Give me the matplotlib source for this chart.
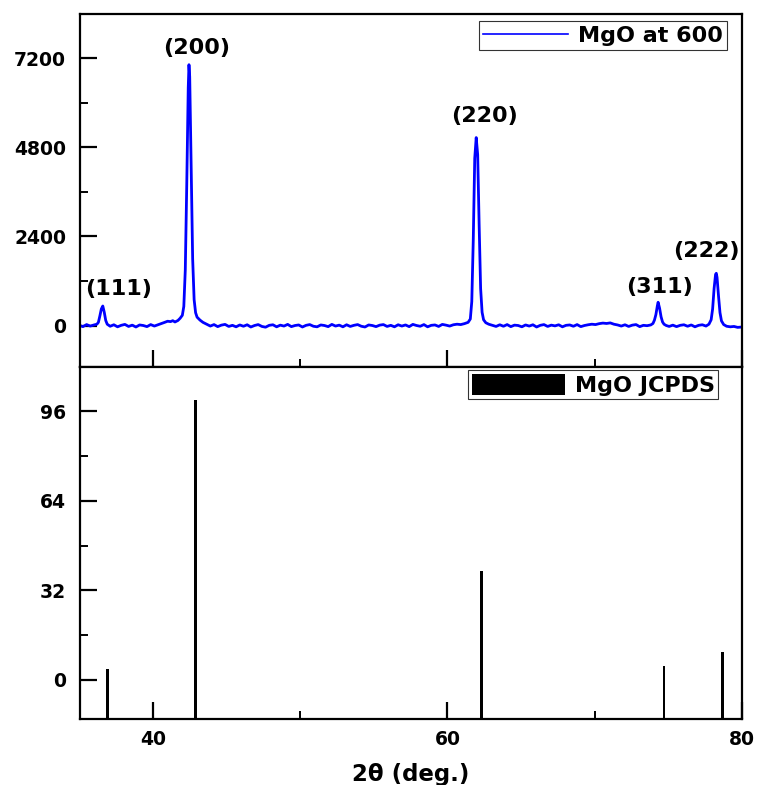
import matplotlib
matplotlib.use('Agg')
import matplotlib.pyplot as plt
from matplotlib.ticker import MultipleLocator

plt.rcParams['font.family'] = ['DejaVu Sans']
plt.rcParams['font.weight'] = 'bold'

# measured pattern, MgO calcined at 600
tth = [35.0, 35.25, 35.5, 35.75, 36.0, 36.2, 36.3, 36.4, 36.5, 36.6, 36.7, 36.8, 36.9,
       37.1, 37.35, 37.6, 37.85, 38.1, 38.35, 38.6, 38.85, 39.1, 39.35, 39.6, 39.85,
       40.1, 40.35, 40.6, 40.8, 41.0, 41.2, 41.35, 41.5, 41.7, 41.85, 42.0, 42.1,
       42.2, 42.3, 42.4, 42.45, 42.5, 42.6, 42.7, 42.8, 42.9, 43.0, 43.2, 43.4,
       43.65, 43.9, 44.15, 44.4, 44.65, 44.9, 45.15, 45.4, 45.65, 45.9, 46.15, 46.4,
       46.65, 46.9, 47.15, 47.4, 47.65, 47.9, 48.15, 48.4, 48.65, 48.9, 49.15, 49.4,
       49.65, 49.9, 50.15, 50.4, 50.65, 50.9, 51.15, 51.4, 51.65, 51.9, 52.15, 52.4,
       52.65, 52.9, 53.15, 53.4, 53.65, 53.9, 54.15, 54.4, 54.65, 54.9, 55.15, 55.4,
       55.65, 55.9, 56.15, 56.4, 56.65, 56.9, 57.15, 57.4, 57.65, 57.9, 58.15, 58.4,
       58.65, 58.9, 59.15, 59.4, 59.65, 59.9, 60.15, 60.4, 60.65, 60.9, 61.15, 61.4,
       61.55, 61.65, 61.75, 61.85, 61.95, 62.05, 62.15, 62.25, 62.35, 62.45, 62.6,
       62.8, 63.05, 63.3, 63.55, 63.8, 64.05, 64.3, 64.55, 64.8, 65.05, 65.3, 65.55,
       65.8, 66.05, 66.3, 66.55, 66.8, 67.05, 67.3, 67.55, 67.8, 68.05, 68.3, 68.55,
       68.8, 69.05, 69.3, 69.55, 69.8, 70.05, 70.3, 70.55, 70.8, 71.05, 71.3, 71.55,
       71.8, 72.05, 72.3, 72.55, 72.8, 73.05, 73.3, 73.55, 73.8, 73.95, 74.05, 74.15,
       74.25, 74.3, 74.4, 74.5, 74.6, 74.7, 74.85, 75.05, 75.3, 75.55, 75.8, 76.05,
       76.3, 76.55, 76.8, 77.05, 77.3, 77.55, 77.75, 77.9, 78.0, 78.1, 78.2, 78.25,
       78.3, 78.4, 78.5, 78.6, 78.75, 78.95, 79.2, 79.45, 79.7, 80.0]
counts = [10, -25, 30, -10, 20, 40, 90, 260, 450, 530, 360, 140, 40,
          -15, 25, -30, 10, 35, -20, 15, -35, 20, 5, -25, 30,
          -10, 25, 60, 90, 120, 110, 135, 100, 140, 200, 280, 520,
          1500, 3800, 6400, 7020, 6700, 4300, 1800, 700, 350, 230, 150, 90,
          40, -10, 30, -25, 15, 35, -20, 10, -30, 20, -15, 25,
          -35, 5, 30, -20, -40, 10, 25, -30, 15, -10, 35, -25,
          5, 20, -35, 10, 30, -15, -30, 20, 5, -25, 35, -10,
          15, -30, 25, -20, 10, 30, -15, -35, 20, 5, -25, 15,
          30, -20, 10, -30, 25, -10, 20, -25, 35, 5, -15, 30,
          -30, 10, 20, -20, 35, 15, -10, 25, 40, 30, 55, 90,
          180, 650, 2300, 4500, 5060, 4600, 2700, 1000, 360, 160, 80,
          40, 10, -20, 25, -15, 30, -25, 15, 5, -30, 20, -10,
          25, -35, 10, 30, -20, 15, -5, 25, -30, 10, 20, -15,
          30, -25, 5, 25, 40, 30, 55, 70, 60, 75, 40, 20,
          -10, 25, -20, 15, 30, -25, 10, 0, 20, 60, 150, 300,
          540, 630, 470, 240, 100, 40, 5, -20, 15, -25, 10, 25,
          -15, 20, -30, 10, 25, -10, 40, 160, 450, 1000, 1380, 1410,
          1300, 800, 350, 130, 30, -15, -30, -20, -45, -35]

# reference stick pattern
jcpds_tth = [36.9, 42.9, 62.3, 74.7, 78.65]
jcpds_top = [3.8, 100, 39, 4.8, 9.8]
stick_base = -14

labels = ['(111)', '(200)', '(220)', '(311)', '(222)']
label_x = [37.7, 43.0, 62.5, 74.4, 77.6]
label_y = [990, 7470, 5640, 1040, 2010]

fig = plt.figure(figsize=(7.58, 7.85), dpi=100)
gs = fig.add_gridspec(2, 1, hspace=0, left=0.1055, right=0.979, top=0.982, bottom=0.084)
ax1 = fig.add_subplot(gs[0])
ax2 = fig.add_subplot(gs[1], sharex=ax1)

ax1.plot(tth, counts, color='#0000ff', lw=2.0, label='MgO at 600')
for lab, x, y in zip(labels, label_x, label_y):
    ax1.text(x, y, lab, ha='center', va='center', fontsize=16, fontweight='bold')
ax1.set_ylim(-1100, 8380)
ax1.yaxis.set_major_locator(MultipleLocator(2400))
ax1.yaxis.set_minor_locator(MultipleLocator(1200))
ax1.tick_params(labelbottom=False)
leg1 = ax1.legend(loc='upper right', bbox_to_anchor=(0.977, 0.980), fontsize=16,
                  fancybox=False, edgecolor='black', handlelength=3.8,
                  borderpad=0.2, handletextpad=0.45, borderaxespad=0)
leg1.get_frame().set_linewidth(0.8)
for line in leg1.get_lines():
    line.set_linewidth(1.2)

heights = [t - stick_base for t in jcpds_top]
ax2.bar(jcpds_tth, heights, bottom=stick_base, width=0.2, color='black', label='MgO JCPDS')
ax2.set_ylim(-14, 112)
ax2.yaxis.set_major_locator(MultipleLocator(32))
ax2.yaxis.set_minor_locator(MultipleLocator(16))
ax2.set_xlim(35.05, 80)
ax2.xaxis.set_major_locator(MultipleLocator(20))
ax2.xaxis.set_minor_locator(MultipleLocator(10))
ax2.set_xlabel('2θ (deg.)', fontsize=16.5, fontweight='bold', labelpad=10)
leg2 = ax2.legend(loc='upper right', bbox_to_anchor=(0.964, 0.989), fontsize=16,
                  fancybox=False, edgecolor='black', handlelength=4.2, handleheight=1.1,
                  borderpad=0.15, handletextpad=0.45, borderaxespad=0)
leg2.get_frame().set_linewidth(0.8)

for ax in (ax1, ax2):
    for s in ax.spines.values():
        s.set_linewidth(1.6)
    ax.tick_params(which='major', direction='in', length=12, width=1.6,
                   labelsize=13.5, pad=10)
    ax.tick_params(which='minor', direction='in', length=6, width=1.4)
    for t in ax.get_yticklabels() + ax.get_xticklabels():
        t.set_fontweight('bold')
ax2.tick_params(axis='x', pad=8)

fig.savefig('out.png', dpi=100)
